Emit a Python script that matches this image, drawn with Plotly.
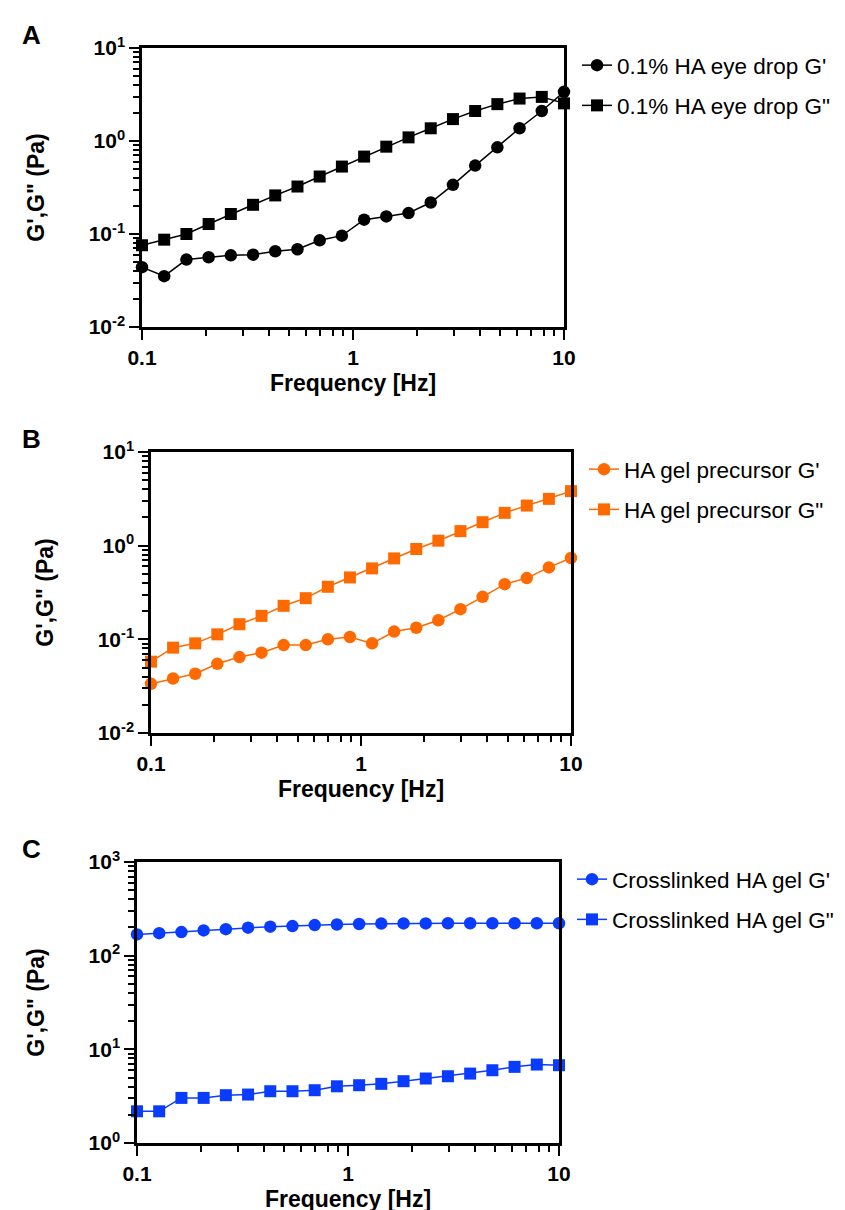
import plotly.graph_objects as go

# ---------------- data ----------------
freq = [0.1, 0.1274, 0.1624, 0.2069, 0.2637, 0.3360, 0.4281, 0.5456, 0.6952, 0.8859,
        1.129, 1.438, 1.833, 2.336, 2.976, 3.793, 4.833, 6.158, 7.848, 10.0]

eye_drop_Gp = [0.044, 0.0352, 0.0531, 0.0562, 0.059, 0.060, 0.0652, 0.0685, 0.0855, 0.096,
               0.1426, 0.1545, 0.168, 0.218, 0.338, 0.544, 0.855, 1.37, 2.10, 3.38]
eye_drop_Gpp = [0.0757, 0.0869, 0.100, 0.128, 0.164, 0.206, 0.26, 0.324, 0.415, 0.531,
                0.68, 0.869, 1.094, 1.37, 1.72, 2.10, 2.49, 2.86, 2.98, 2.54]

precursor_Gp = [0.0335, 0.0382, 0.0429, 0.0548, 0.0647, 0.072, 0.0869, 0.0869, 0.100, 0.106,
                0.0906, 0.121, 0.133, 0.160, 0.210, 0.284, 0.388, 0.451, 0.586, 0.738]
precursor_Gpp = [0.0577, 0.0815, 0.0906, 0.113, 0.145, 0.178, 0.228, 0.275, 0.364, 0.458,
                 0.572, 0.731, 0.921, 1.13, 1.43, 1.78, 2.24, 2.68, 3.16, 3.82]

crosslinked_Gp = [168.6, 174, 178.6, 186, 192, 199, 204, 207, 212, 215,
                  218, 220, 221, 221, 222, 222, 222, 222, 222, 222]
crosslinked_Gpp = [2.18, 2.18, 3.03, 3.03, 3.24, 3.29, 3.57, 3.57, 3.66, 4.03,
                   4.14, 4.28, 4.57, 4.88, 5.16, 5.51, 5.98, 6.50, 6.88, 6.77]

x_ticks = [0.1, 1, 10]
x_ticklabels = ["0.1", "1", "10"]
x_minor = [0.2, 0.3, 0.4, 0.5, 0.6, 0.7, 0.8, 0.9, 2, 3, 4, 5, 6, 7, 8, 9]

ya_ticks = [0.01, 0.1, 1, 10]
ya_labels = ["10<sup>-2</sup>", "10<sup>-1</sup>", "10<sup>0</sup>", "10<sup>1</sup>"]
yc_ticks = [1, 10, 100, 1000]
yc_labels = ["10<sup>0</sup>", "10<sup>1</sup>", "10<sup>2</sup>", "10<sup>3</sup>"]

panels = [
    dict(label="A", color="#000000", names=["0.1% HA eye drop G'", '0.1% HA eye drop G"'],
         gp=eye_drop_Gp, gpp=eye_drop_Gpp, yt=ya_ticks, yl=ya_labels, yr=[-2, 1]),
    dict(label="B", color="#FF6A00", names=["HA gel precursor G'", 'HA gel precursor G"'],
         gp=precursor_Gp, gpp=precursor_Gpp, yt=ya_ticks, yl=ya_labels, yr=[-2, 1]),
    dict(label="C", color="#0A3CFF", names=["Crosslinked HA gel G'", 'Crosslinked HA gel G"'],
         gp=crosslinked_Gp, gpp=crosslinked_Gpp, yt=yc_ticks, yl=yc_labels, yr=[0, 3]),
]

# ---------------- layout geometry (pixels) ----------------
W, H = 845, 1210
boxes = [  # left, right, top, bottom
    (134, 556, 40, 319),
    (143, 563, 444, 725),
    (129, 551, 854, 1135),
]

FONT = "Arial, 'Liberation Sans', Helvetica, sans-serif"
fig = go.Figure()
layout = dict(
    width=W, height=H, margin=dict(l=0, r=0, t=0, b=0, autoexpand=False),
    paper_bgcolor="white", plot_bgcolor="white",
    font=dict(family=FONT, color="black"),
    showlegend=True,
)
annotations = []

for i, (p, (l, r, t, b)) in enumerate(zip(panels, boxes)):
    k = "" if i == 0 else str(i + 1)
    xa, ya = "x" + k, "y" + k
    leg = "legend" + k
    for name, vals, sym in [(p["names"][0], p["gp"], "circle"), (p["names"][1], p["gpp"], "square")]:
        fig.add_trace(go.Scatter(
            x=freq, y=vals, name=name, mode="lines+markers",
            line=dict(color=p["color"], width=1.5),
            marker=dict(symbol=sym, size=12.5 if sym == "circle" else 12, color=p["color"]),
            xaxis=xa, yaxis=ya, legend=leg, legendgroup=name, cliponaxis=False,
        ))
    axis_common = dict(
        showline=True, linecolor="black", linewidth=2.5, mirror=True, automargin=False,
        showgrid=False, zeroline=False, ticks="outside", tickwidth=2, ticklen=10,
        tickcolor="black", tickfont=dict(family=FONT, size=21, color="black", weight="bold"),
    )
    layout["xaxis" + k] = dict(
        axis_common, type="log", range=[-1, 1],
        domain=[l / W, r / W], anchor=ya,
        tickmode="array", tickvals=x_ticks, ticktext=x_ticklabels,
        minor=dict(ticks="outside", ticklen=6, tickwidth=2, tickcolor="black",
                   tickmode="array", tickvals=x_minor, showgrid=False),
        title=dict(text="<b>Frequency [Hz]</b>", font=dict(family=FONT, size=23, color="black"),
                   standoff=7),
    )
    y_minor = [m * 10 ** e for e in range(p["yr"][0], p["yr"][1]) for m in range(2, 10)]
    layout["yaxis" + k] = dict(
        axis_common, type="log", range=p["yr"],
        domain=[1 - b / H, 1 - t / H], anchor=xa,
        tickmode="array", tickvals=p["yt"], ticktext=p["yl"],
        minor=dict(ticks="outside", ticklen=6, tickwidth=2, tickcolor="black",
                   tickmode="array", tickvals=y_minor, showgrid=False),
        title=dict(text="<b>G',G\" (Pa)</b>", font=dict(family=FONT, size=23, color="black"),
                   standoff=38),
    )
    layout[leg] = dict(
        x=(r + 13) / W, y=1 - (t - 4) / H, xanchor="left", yanchor="top",
        xref="paper", yref="paper",
        font=dict(family=FONT, size=22.5, color="black"),
        bgcolor="rgba(0,0,0,0)", tracegroupgap=8, itemwidth=30,
    )
    annotations.append(dict(
        text="<b>%s</b>" % p["label"], x=12 / W, y=1 - (t - 13) / H,
        xref="paper", yref="paper", xanchor="left", yanchor="middle",
        showarrow=False, font=dict(family=FONT, size=26, color="black"),
    ))

layout["annotations"] = annotations
fig.update_layout(**layout)
fig.write_html("out.html")
